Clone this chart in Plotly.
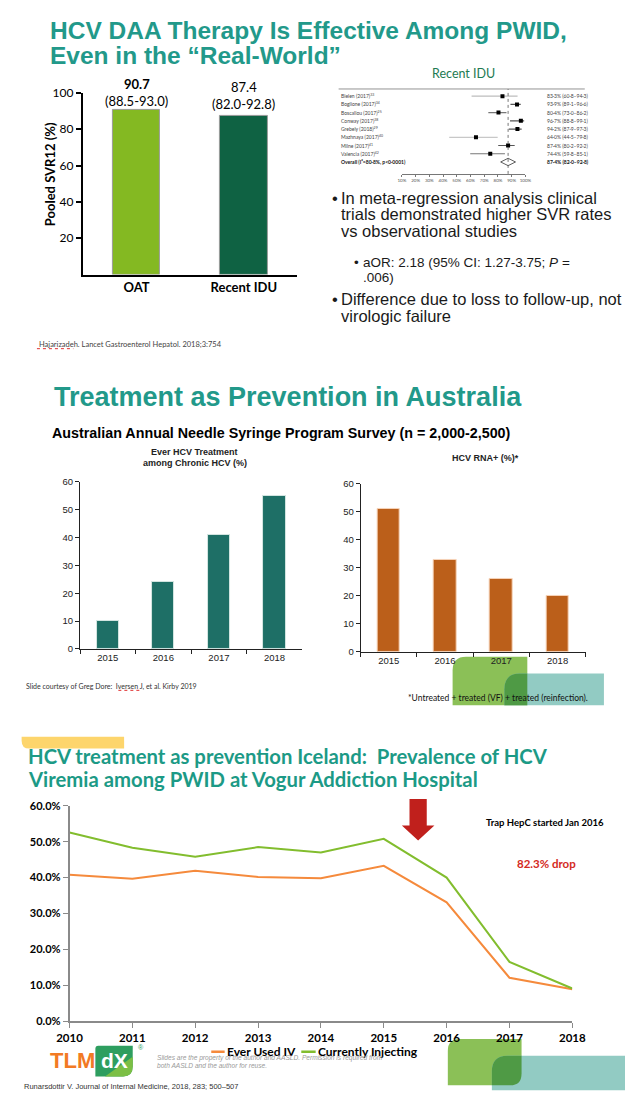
import plotly.graph_objects as go

W, H = 639, 1116


def X(p):
    return p / W


def Y(p):
    return 1 - p / H


# ---------------- data ----------------
svr_groups = ["OAT", "Recent IDU"]
svr_values = [90.7, 87.4]
svr_ci_text = ["(88.5-93.0)", "(82.0-92.8)"]

forest_studies = ["Bielen (2017)", "Boglione (2017)", "Boscallou (2017)", "Conway (2017)",
                  "Grebely (2018)", "Mazhnaya (2017)", "Milne (2017)", "Valencia (2017)"]
forest_refs = ["33", "34", "25", "38", "29", "40", "41", "42"]
forest_est = [83.3, 93.9, 80.4, 96.7, 94.2, 64.0, 87.4, 74.4]
forest_lo = [60.8, 89.1, 73.0, 88.8, 87.9, 44.5, 80.2, 59.8]
forest_hi = [94.3, 96.6, 86.2, 99.1, 97.3, 79.8, 92.2, 85.1]
overall_est, overall_lo, overall_hi = 87.4, 82.0, 92.8
forest_ticks = [10, 20, 30, 40, 50, 60, 70, 80, 90, 100]

aus_years = ["2015", "2016", "2017", "2018"]
ever_treated = [10, 24, 41, 55]
rna_positive = [51, 33, 26, 20]

ice_years = [2010, 2011, 2012, 2013, 2014, 2015, 2016, 2017, 2018]
ever_used_iv = [40.8, 39.7, 41.9, 40.2, 39.8, 43.3, 33.1, 12.1, 8.9]
currently_injecting = [52.6, 48.3, 45.8, 48.5, 47.0, 50.8, 40.0, 16.5, 9.1]

# ---------------- styles ----------------
TEAL = "#22998a"
ARIAL = "Liberation Sans"
CALIBRI = "Lato"

fig = go.Figure()

# ---- Section 1: pooled SVR bars ----
fig.add_trace(go.Bar(x=svr_groups, y=svr_values, marker_color=["#84b922", "#0f6243"],
                     marker_line=dict(color="#9a9a9a", width=1), width=0.44,
                     xaxis="x", yaxis="y", showlegend=False, hoverinfo="skip"))

# ---- Section 1: forest plot ----
line_cols = ["#bdbdbd", "#555", "#777", "#555", "#555", "#c8c8c8", "#555", "#777"]
for i in range(len(forest_studies)):
    fig.add_trace(go.Scatter(x=[forest_lo[i], forest_hi[i]], y=[i, i], mode="lines",
                             line=dict(color=line_cols[i], width=1.2),
                             xaxis="x2", yaxis="y2", showlegend=False, hoverinfo="skip"))
fig.add_trace(go.Scatter(x=forest_est, y=list(range(len(forest_est))), mode="markers",
                         marker=dict(symbol="square", size=4, color="black"),
                         xaxis="x2", yaxis="y2", showlegend=False, hoverinfo="skip"))
n = len(forest_studies)
fig.add_trace(go.Scatter(x=[overall_lo, overall_est, overall_hi, overall_est, overall_lo],
                         y=[n, n - 0.45, n, n + 0.45, n], mode="lines",
                         line=dict(color="#333", width=0.8),
                         xaxis="x2", yaxis="y2", showlegend=False, hoverinfo="skip"))

# ---- Section 2: bars ----
fig.add_trace(go.Bar(x=aus_years, y=ever_treated, marker_color="#1e6f66",
                     marker_line=dict(color="#d4e6e2", width=1), width=0.4,
                     xaxis="x3", yaxis="y3", showlegend=False, hoverinfo="skip"))
fig.add_trace(go.Bar(x=aus_years, y=rna_positive, marker_color="#bb5f1a",
                     marker_line=dict(color="#f6d3b8", width=1), width=0.4,
                     xaxis="x4", yaxis="y4", showlegend=False, hoverinfo="skip"))

# ---- Section 3: lines ----
fig.add_trace(go.Scatter(x=ice_years, y=[v / 100 for v in ever_used_iv], mode="lines",
                         line=dict(color="#f58a3c", width=2), name="Ever Used IV",
                         xaxis="x5", yaxis="y5", showlegend=False, hoverinfo="skip"))
fig.add_trace(go.Scatter(x=ice_years, y=[v / 100 for v in currently_injecting], mode="lines",
                         line=dict(color="#82bd2e", width=2), name="Currently Injecting",
                         xaxis="x5", yaxis="y5", showlegend=False, hoverinfo="skip"))

ann = []
shapes = []


def text(x, y, s, size, color="black", family=ARIAL, xanchor="left", weight="normal",
         italic=False, angle=0, xref="paper"):
    ann.append(dict(x=x if xref != "paper" else X(x), y=Y(y), xref=xref, yref="paper",
                    text=s, showarrow=False, xanchor=xanchor, yanchor="middle",
                    textangle=angle,
                    font=dict(family=family, size=size, color=color, weight=weight,
                              style="italic" if italic else "normal")))


def pt(x, y):
    return f"{X(x):.5f},{Y(y):.5f}"


def rrect(x0, y0, x1, y1, tl=0, tr=0, br=0, bl=0):
    return (f"M {pt(x0 + tl, y0)} L {pt(x1 - tr, y0)} Q {pt(x1, y0)} {pt(x1, y0 + tr)} "
            f"L {pt(x1, y1 - br)} Q {pt(x1, y1)} {pt(x1 - br, y1)} L {pt(x0 + bl, y1)} "
            f"Q {pt(x0, y1)} {pt(x0, y1 - bl)} L {pt(x0, y0 + tl)} Q {pt(x0, y0)} {pt(x0 + tl, y0)} Z")


def path(d, color):
    shapes.append(dict(type="path", path=d, xref="paper", yref="paper",
                       fillcolor=color, line=dict(width=0), layer="below"))


def hline(x0, x1, y, color, width=1, dash="solid"):
    shapes.append(dict(type="line", xref="paper", yref="paper", x0=X(x0), x1=X(x1),
                       y0=Y(y), y1=Y(y), line=dict(color=color, width=width, dash=dash)))


# ---------- Section 1 texts ----------
text(37, 23, "HCV DAA Therapy Is Effective Among PWID,", 24.5, TEAL, weight="bold")
text(37, 48, "Even in the “Real-World”", 24.5, TEAL, weight="bold")
text(39, 168, "Pooled SVR12 (%)", 13, "black", CALIBRI, "center", "bold", angle=-90)
svr_label_y = [(77, 94), (80, 97)]
for g, v, ci, (ya, yb), w in zip(svr_groups, svr_values, svr_ci_text, svr_label_y, ["bold", "normal"]):
    text(g, ya, f"{v:.1f}", 13, "black", CALIBRI, "center", w, xref="x")
    text(g, yb, ci, 13, "black", CALIBRI, "center", xref="x")
text(25, 341, "Hajarizadeh. Lancet Gastroenterol Hepatol. 2018;3:754", 7.5, "#444", CALIBRI)
hline(25, 63, 345, "#e03030", 1, "dot")

# forest labels
text(470, 66, "Recent IDU", 12.5, "#1e7a52", CALIBRI, "center")
hline(340, 597, 82, "#777", 0.8)
row_y = [89.3 + 8.33 * i for i in range(n + 1)]
for i in range(n):
    text(340, row_y[i], f"{forest_studies[i]}<sup>{forest_refs[i]}</sup>", 5, "#444", CALIBRI)
    text(555, row_y[i], f"{forest_est[i]:.1f}% ({forest_lo[i]:.1f}–{forest_hi[i]:.1f})".replace(".", "·"),
         5, "#444", CALIBRI)
text(340, row_y[n], "Overall (I²=80·8%, p<0·0001)", 5, "#111", CALIBRI, weight="bold")
text(555, row_y[n], f"{overall_est:.1f}% ({overall_lo:.1f}–{overall_hi:.1f})".replace(".", "·"),
     5, "#111", CALIBRI, weight="bold")
shapes.append(dict(type="line", xref="x2", yref="paper", x0=overall_est, x1=overall_est,
                   y0=Y(168), y1=Y(82), line=dict(color="#555", width=0.8, dash="dot")))

# bullets
b1 = ["In meta-regression analysis clinical", "trials demonstrated higher SVR rates",
      "vs observational studies"]
for k, s in enumerate(b1):
    text(340, 192 + 17 * k, s, 16.5, "#1a1a1a")
text(331, 192, "•", 16.5, "#1a1a1a")
text(363, 258, "aOR: 2.18 (95% CI: 1.27-3.75; <i>P</i> =", 13.5, "#1a1a1a")
text(363, 273, ".006)", 13.5, "#1a1a1a")
text(354, 258, "•", 13.5, "#1a1a1a")
text(340, 295, "Difference due to loss to follow-up, not", 16.5, "#1a1a1a")
text(340, 312, "virologic failure", 16.5, "#1a1a1a")
text(331, 295, "•", 16.5, "#1a1a1a")

# ---------- Section 2 texts ----------
text(41, 394, "Treatment as Prevention in Australia", 27, TEAL, weight="bold")
text(39, 430, "Australian Annual Needle Syringe Program Survey (n = 2,000-2,500)", 14.3, "black",
     weight="bold")
text(190, 450, "Ever HCV Treatment", 9, "#222", ARIAL, "center", "bold")
text(190, 461, "among Chronic HCV (%)", 9, "#222", ARIAL, "center", "bold")
text(493, 456, "HCV RNA+ (%)*", 9, "#222", ARIAL, "center", "bold")
text(12, 687, "Slide courtesy of Greg Dore:  Iversen J, et al. Kirby 2019", 7, "#333", CALIBRI)
hline(110, 134, 691, "#e03030", 1, "dot")

# decorative shapes section 2
path(rrect(459, 657, 537, 706, tl=14), "#8bc057")
path(rrect(513, 674, 617, 706, tl=16), "#92cbc3")
path(rrect(513, 674, 537, 706, tl=16), "#4f9a45")
text(410, 699, "*Untreated + treated (VF) + treated (reinfection).", 8.5, "#111", CALIBRI)

# ---------- Section 3 texts ----------
path(rrect(9, 738, 116, 750, bl=8), "#fdd56c")
text(14, 758, "HCV treatment as prevention Iceland:  Prevalence of HCV", 20.3, "#1c9a86", CALIBRI,
     weight="bold")
text(14, 781, "Viremia among PWID at Vogur Addiction Hospital", 20.3, "#1c9a86", CALIBRI,
     weight="bold")
text(492, 825, "Trap HepC started Jan 2016", 9.5, "black", CALIBRI, weight="bold")
text(524, 866, "82.3% drop", 11.5, "#d42a1e", CALIBRI, weight="bold")
# red arrow
arrow = (f"M {pt(414, 801)} L {pt(432, 801)} L {pt(432, 828)} L {pt(440, 828)} L {pt(423, 843)} "
         f"L {pt(406, 828)} L {pt(414, 828)} Z")
shapes.append(dict(type="path", path=arrow, xref="paper", yref="paper",
                   fillcolor="#c0201c", line=dict(width=0)))

# legend
hline(207, 221, 1057, "#f58a3c", 2.5)
text(221, 1057, "Ever Used IV", 12, "black", CALIBRI, weight="bold")
hline(301, 316, 1057, "#82bd2e", 2.5)
text(316, 1057, "Currently Injecting", 12, "black", CALIBRI, weight="bold")

# logo
text(37, 1066, "TLM", 22, "#f27a24", ARIAL, weight="bold")
path(rrect(86, 1051, 125, 1082, tl=3, br=10), "#2e9e5f")
path(f"M {pt(125, 1062)} L {pt(125, 1072)} Q {pt(125, 1082)} {pt(115, 1082)} L {pt(96, 1082)} Z",
     "#7cbf45")
text(105.5, 1066, "dX", 21, "white", ARIAL, "center", "bold")
text(128, 1053, "®", 7, "#2e9e5f", ARIAL)
text(148, 1063, "Slides are the property of the author and AASLD. Permission is required from",
     6.6, "#9a9a9a", ARIAL, italic=True)
text(148, 1071, "both AASLD and the author for reuse.", 6.6, "#9a9a9a", ARIAL, italic=True)
text(9, 1092, "Runarsdottir V. Journal of Internal Medicine, 2018, 283; 500–507", 7.5, "#333", ARIAL)

# decorative shapes section 3
path(rrect(454, 1044, 531, 1091, tl=12, br=12), "#8bc057")
path(rrect(500, 1061, 639, 1096, tl=16), "#92cbc3")
path(rrect(500, 1061, 531, 1091, tl=16, br=12), "#4f9a45")

# ---------------- axes ----------------
noaxis = dict(showgrid=False, zeroline=False)
fig.update_layout(
    width=W, height=H, margin=dict(l=0, r=0, t=0, b=0),
    paper_bgcolor="white", plot_bgcolor="rgba(0,0,0,0)",
    bargap=0,
    annotations=ann, shapes=shapes,
    xaxis=dict(domain=[X(73), X(297)], type="category", range=[-0.5, 1.5],
               tickvals=svr_groups, ticktext=[f"<b>{g}</b>" for g in svr_groups],
               tickfont=dict(family=CALIBRI, size=13, color="black"),
               showline=True, linecolor="black", linewidth=2, ticks="", **noaxis),
    yaxis=dict(domain=[Y(270), Y(86)], range=[0, 100], tickvals=[20, 40, 60, 80, 100],
               tickfont=dict(family=CALIBRI, size=12, color="black"),
               showline=True, linecolor="black", linewidth=2, ticks="outside", ticklen=5,
               tickwidth=1.5, tickcolor="black", **noaxis),
    xaxis2=dict(domain=[X(406), X(535)], range=[10, 100], tickvals=forest_ticks,
                ticktext=[f"{t}%" for t in forest_ticks],
                tickfont=dict(family=CALIBRI, size=4.5, color="#555"),
                showline=True, linecolor="#777", linewidth=0.8, ticks="outside", ticklen=2,
                tickcolor="#777", tickwidth=0.6, anchor="y2", **noaxis),
    yaxis2=dict(domain=[Y(168), Y(82)], range=[9.45, -0.876], visible=False, anchor="x2", **noaxis),
    xaxis3=dict(domain=[X(70), X(302)], type="category",
                tickfont=dict(family=ARIAL, size=9.5, color="#222"),
                showline=True, linecolor="#222", linewidth=1, ticks="outside", tickson="boundaries",
                ticklen=4, tickcolor="#222", anchor="y3", **noaxis),
    yaxis3=dict(domain=[Y(649), Y(480)], range=[0, 60], dtick=10,
                tickfont=dict(family=ARIAL, size=9.5, color="#222"),
                showline=True, linecolor="#222", linewidth=1, ticks="outside", ticklen=4,
                tickcolor="#222", anchor="x3", **noaxis),
    xaxis4=dict(domain=[X(363), X(598)], type="category",
                tickfont=dict(family=ARIAL, size=9.5, color="#222"),
                showline=True, linecolor="#222", linewidth=1, ticks="outside", tickson="boundaries",
                ticklen=4, tickcolor="#222", anchor="y4", **noaxis),
    yaxis4=dict(domain=[Y(652), Y(482)], range=[0, 60], dtick=10,
                tickfont=dict(family=ARIAL, size=9.5, color="#222"),
                showline=True, linecolor="#222", linewidth=1, ticks="outside", ticklen=4,
                tickcolor="#222", anchor="x4", **noaxis),
    xaxis5=dict(domain=[X(59), X(584)], range=[2010, 2018], tickvals=ice_years,
                tickfont=dict(family=CALIBRI, size=11.5, color="black", weight="bold"),
                showline=True, linecolor="#8a8a8a", linewidth=1.5, ticks="outside", ticklen=5,
                tickcolor="#8a8a8a", anchor="y5", **noaxis),
    yaxis5=dict(domain=[Y(1026), Y(808)], range=[0, 0.6], dtick=0.1, tickformat=".1%",
                tickfont=dict(family=CALIBRI, size=11, color="black", weight="bold"),
                showline=True, linecolor="#8a8a8a", linewidth=1.5, ticks="outside", ticklen=5,
                tickcolor="#8a8a8a", anchor="x5", **noaxis),
)

fig.write_html("out.html", config={"displayModeBar": False},
               post_script="document.body.style.margin='0';document.body.style.overflow='hidden';")
